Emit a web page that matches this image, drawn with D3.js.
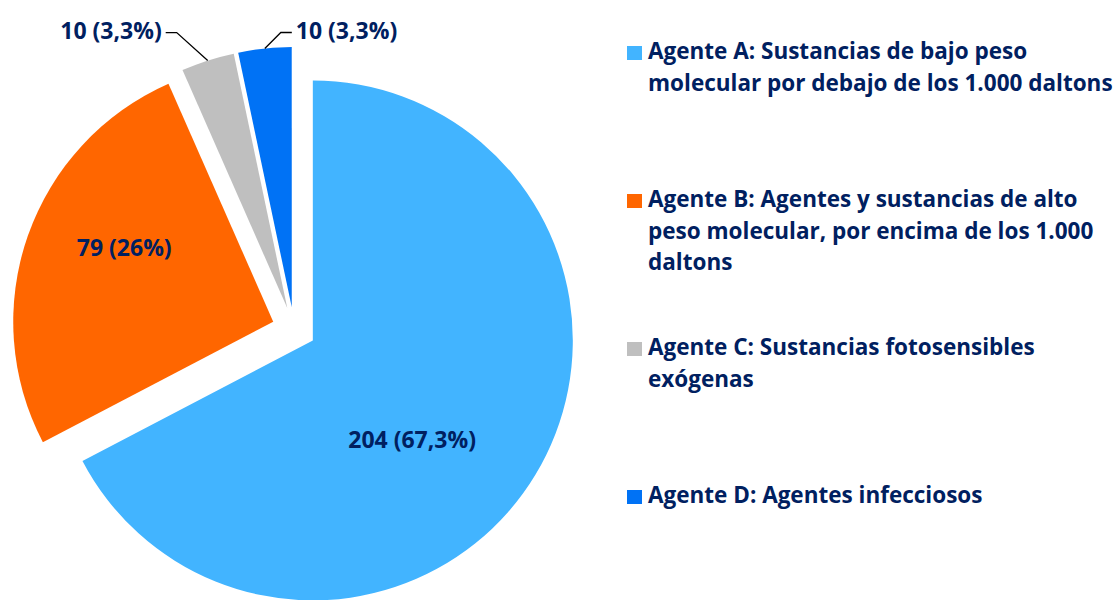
<!DOCTYPE html>
<html>
<head>
<meta charset="utf-8">
<script src="https://cdn.jsdelivr.net/npm/d3@7"></script>
<style>
  body { margin: 0; background: #fff; }
  svg { display: block; font-family: "Open Sans", sans-serif; font-weight: bold; }
</style>
</head>
<body>
<div id="pie-chart"></div>
<script>
// datos del gráfico
const categories = ["Agente A", "Agente B", "Agente C", "Agente D"];
const values = [204, 79, 10, 10];
const percentLabels = ["67,3%", "26%", "3,3%", "3,3%"];
const legendLines = [
  ["Agente A: Sustancias de bajo peso", "molecular por debajo de los 1.000 daltons"],
  ["Agente B: Agentes y sustancias de alto", "peso molecular, por encima de los 1.000", "daltons"],
  ["Agente C: Sustancias fotosensibles", "exógenas"],
  ["Agente D: Agentes infecciosos"]
];
const colors = ["#42B4FF", "#FF6600", "#BFBFBF", "#0072F5"];

const svgWidth = 1117;
const svgHeight = 600;
const cx = 294, cy = 329;
const radius = 260;
const explode = 22;
const textColor = "#002060";

// posición de etiquetas (ajustes de diseño)
const inside = { 0: { r: 0.54, da: 13.8 }, 1: { r: 0.64, da: 7.1 } };
const outside = { 2: { dx: -31, dy: -28, side: -1 }, 3: { dx: 16, dy: -16, side: 1 } };

const svg = d3.select("#pie-chart").append("svg")
  .attr("width", svgWidth)
  .attr("height", svgHeight);

const pie = d3.pie().sort(null).value(d => d);
const arc = d3.arc().innerRadius(0).outerRadius(radius);
const arcsData = pie(values);

const polar = (ang, r) => [Math.sin(ang) * r, -Math.cos(ang) * r];

const slices = svg.selectAll(".slice")
  .data(arcsData)
  .enter().append("g")
  .attr("class", "slice")
  .attr("transform", d => {
    const mid = (d.startAngle + d.endAngle) / 2;
    const [ox, oy] = polar(mid, explode);
    return `translate(${cx + ox},${cy + oy})`;
  });

slices.append("path")
  .attr("d", arc)
  .attr("fill", (d, i) => colors[i]);

// etiquetas interiores
slices.filter((d, i) => inside[i])
  .append("text")
  .attr("transform", d => {
    const k = d.index;
    const mid = (d.startAngle + d.endAngle) / 2 + inside[k].da * Math.PI / 180;
    const [x, y] = polar(mid, radius * inside[k].r);
    return `translate(${x},${y})`;
  })
  .attr("dy", "0.35em")
  .attr("text-anchor", "middle")
  .style("fill", textColor)
  .style("font-size", "23px")
  .text(d => `${d.value} (${percentLabels[d.index]})`);

// etiquetas exteriores con líneas guía
slices.each(function (d, i) {
  const o = outside[i];
  if (!o) return;
  const g = d3.select(this);
  const mid = (d.startAngle + d.endAngle) / 2;
  const [x0, y0] = polar(mid, radius);
  const x1 = x0 + o.dx, y1 = y0 + o.dy;
  const x2 = x1 + o.side * 11;
  g.append("polyline")
    .attr("points", `${x0},${y0} ${x1},${y1} ${x2},${y1}`)
    .attr("fill", "none")
    .attr("stroke", "#000")
    .attr("stroke-width", 1.3);
  g.append("text")
    .attr("x", x2 + o.side * 4)
    .attr("y", y1)
    .attr("dy", "0.3em")
    .attr("text-anchor", o.side < 0 ? "end" : "start")
    .style("fill", textColor)
    .style("font-size", "23px")
    .text(`${d.value} (${percentLabels[i]})`);
});

// leyenda
const legend = svg.append("g").attr("transform", "translate(627,0)");
const legendY = d3.scalePoint().domain(categories).range([59, 503]);

const items = legend.selectAll(".item")
  .data(categories)
  .enter().append("g")
  .attr("class", "item")
  .attr("transform", d => `translate(0,${legendY(d)})`);

items.append("rect")
  .attr("x", 0)
  .attr("y", -13)
  .attr("width", 15)
  .attr("height", 14)
  .attr("fill", (d, i) => colors[i]);

items.append("text")
  .style("fill", textColor)
  .style("font-size", "22.5px")
  .selectAll("tspan")
  .data((d, i) => legendLines[i])
  .enter().append("tspan")
  .attr("x", 21)
  .attr("y", (d, j) => j * 31.5)
  .text(d => d);
</script>
</body>
</html>
